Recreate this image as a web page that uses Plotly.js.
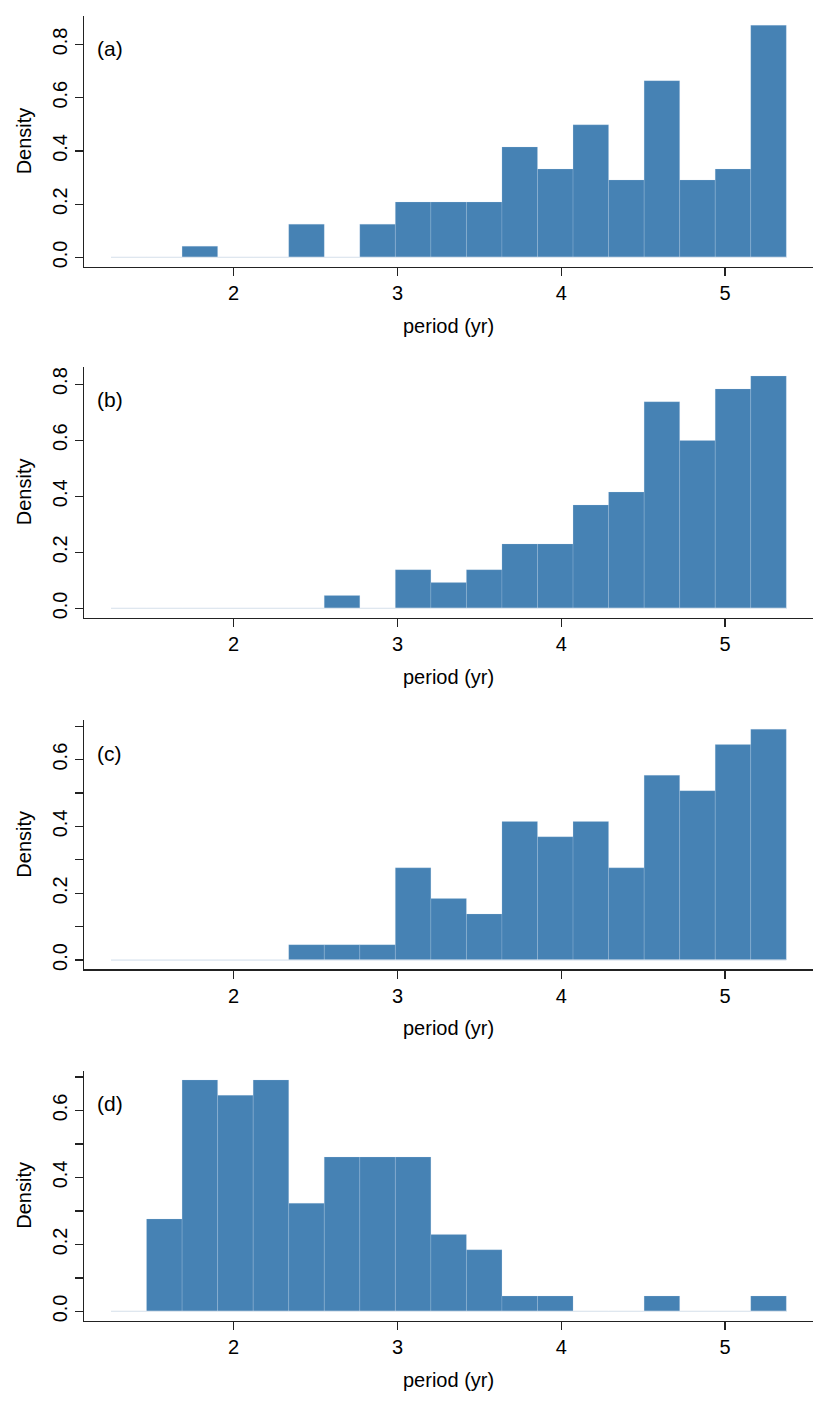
<!DOCTYPE html>
<html>
<head>
<meta charset="utf-8">
<script src="https://cdn.plot.ly/plotly-3.0.1.min.js"></script>
<style>html,body{margin:0;padding:0;background:#fff}#chart{width:830px;height:1405px}</style>
</head>
<body>
<div id="chart"></div>
<script>
// ---- data ----
const binEdges = [1.251,1.468,1.685,1.902,2.119,2.336,2.553,2.770,2.987,3.204,3.421,3.638,3.855,4.072,4.289,4.506,4.723,4.940,5.157,5.374];
const densityA = [0,0,0.042,0,0,0.125,0,0.125,0.208,0.208,0.208,0.415,0.332,0.498,0.291,0.664,0.291,0.332,0.872];
const densityB = [0,0,0,0,0,0,0.046,0,0.138,0.092,0.138,0.230,0.230,0.369,0.415,0.737,0.599,0.783,0.829];
const densityC = [0,0,0,0,0,0.046,0.046,0.046,0.276,0.184,0.138,0.415,0.369,0.415,0.276,0.553,0.507,0.645,0.691];
const densityD = [0,0.276,0.691,0.645,0.691,0.323,0.461,0.461,0.461,0.230,0.184,0.046,0.046,0,0,0.046,0,0,0.046];
const panelLabels = ['(a)','(b)','(c)','(d)'];
const xTickVals = [2,3,4,5];
const xTickText = ['2','3','4','5'];
const yTickValsAB = [0,0.2,0.4,0.6,0.8];
const yTickTextAB = ['0.0','0.2','0.4','0.6','0.8'];
const yTickValsCD = [0,0.1,0.2,0.3,0.4,0.5,0.6,0.7];
const yTickTextCD = ['0.0','','0.2','','0.4','','0.6',''];
const xTitle = 'period (yr)';
const yTitle = 'Density';

// ---- layout helpers ----
const W = 830, H = 1405;
const FONT = 'Liberation Sans, Arial, Helvetica, sans-serif';
const panels = [
  {dens: densityA, top: 16, bottom: 266.7, tv: yTickValsAB, tt: yTickTextAB},
  {dens: densityB, top: 366.7, bottom: 617.7, tv: yTickValsAB, tt: yTickTextAB},
  {dens: densityC, top: 720, bottom: 969.3, tv: yTickValsCD, tt: yTickTextCD},
  {dens: densityD, top: 1070.7, bottom: 1320.7, tv: yTickValsCD, tt: yTickTextCD}
];
const xLeft = 84, xRight = 813.3;
const xmin = binEdges[0], xmax = binEdges[binEdges.length-1];
const xpad = 0.04*(xmax-xmin);

const centers = [], widths = [];
for (let i = 0; i < binEdges.length-1; i++) {
  centers.push((binEdges[i]+binEdges[i+1])/2);
  widths.push(binEdges[i+1]-binEdges[i]);
}

const traces = [];
const layout = {
  width: W, height: H,
  margin: {l:0, r:0, t:0, b:0},
  paper_bgcolor: '#fff', plot_bgcolor: '#fff',
  showlegend: false,
  font: {family: FONT, color: '#000'},
  annotations: []
};

panels.forEach((p, k) => {
  const n = k === 0 ? '' : String(k+1);
  const xa = 'x'+n, ya = 'y'+n;
  traces.push({
    type: 'scatter', mode: 'lines', x: [xmin, xmax], y: [0, 0],
    xaxis: xa, yaxis: ya, line: {color: '#dfe7ef', width: 1.3}, hoverinfo: 'skip'
  });
  traces.push({
    type: 'bar', x: centers, y: p.dens, width: widths,
    xaxis: xa, yaxis: ya,
    marker: {color: '#4682B4', line: {color: 'rgba(200,218,238,0.28)', width: 0.7}},
    hoverinfo: 'skip'
  });
  const ymax = Math.max(...p.dens);
  layout['xaxis'+n] = {
    domain: [xLeft/W, xRight/W], anchor: ya,
    range: [xmin - xpad, xmax + xpad],
    showline: true, linecolor: '#222', linewidth: 1.6, mirror: false,
    ticks: 'outside', ticklen: 8, tickwidth: 1.2, tickcolor: '#222',
    tickvals: xTickVals, ticktext: xTickText,
    tickfont: {family: FONT, size: 20, color: '#000'},
    showgrid: false, zeroline: false, fixedrange: true
  };
  layout['yaxis'+n] = {
    domain: [1 - p.bottom/H, 1 - p.top/H], anchor: xa,
    range: [-0.04*ymax, 1.04*ymax],
    showline: true, linecolor: '#222', linewidth: 1.2,
    ticks: 'outside', ticklen: 8, tickwidth: 1.2, tickcolor: '#222',
    tickvals: p.tv, ticktext: p.tt, tickangle: -90,
    tickfont: {family: FONT, size: 20, color: '#000'},
    showgrid: false, zeroline: false, fixedrange: true
  };
  layout.annotations.push({
    text: panelLabels[k], xref: 'paper', yref: 'paper',
    x: 95/W, y: 1 - (p.top + 33)/H, xanchor: 'left', yanchor: 'middle',
    showarrow: false, font: {family: FONT, size: 21, color: '#000'}
  });
  layout.annotations.push({
    text: xTitle, xref: 'paper', yref: 'paper',
    x: (xLeft + xRight)/2/W, y: 1 - (p.bottom + 59)/H, xanchor: 'center', yanchor: 'middle',
    showarrow: false, font: {family: FONT, size: 20, color: '#000'}
  });
  layout.annotations.push({
    text: yTitle, xref: 'paper', yref: 'paper', textangle: -90,
    x: 24/W, y: 1 - (p.top + p.bottom)/2/H, xanchor: 'center', yanchor: 'middle',
    showarrow: false, font: {family: FONT, size: 20, color: '#000'}
  });
});

Plotly.newPlot('chart', traces, layout, {staticPlot: true, displayModeBar: false});
</script>
</body>
</html>
